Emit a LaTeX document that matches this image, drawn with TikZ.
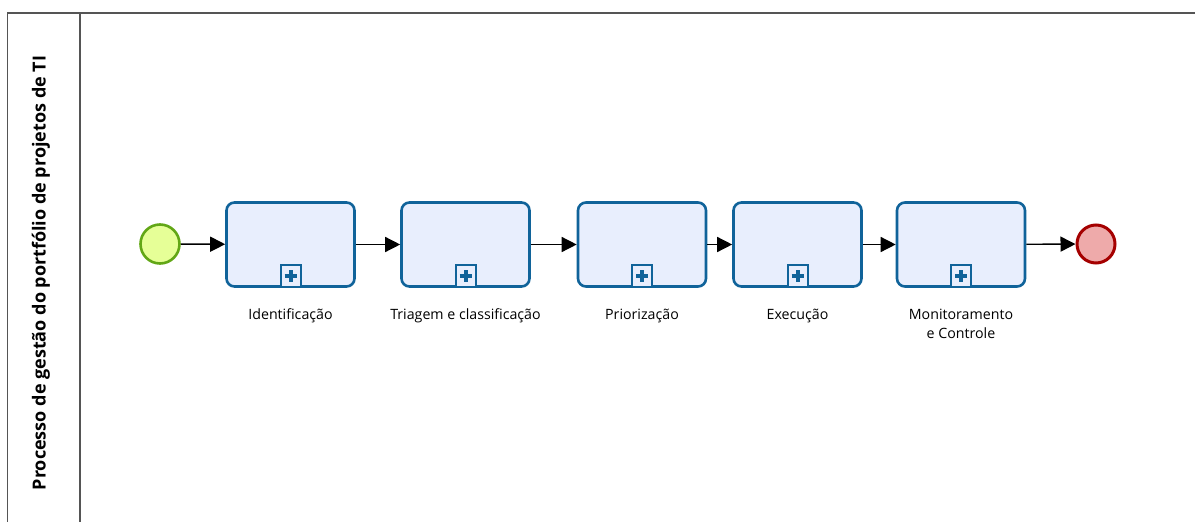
\documentclass[tikz,border=0pt]{standalone}
\usepackage{fontspec}
\setmainfont{Open Sans}
\usetikzlibrary{arrows.meta}
\definecolor{taskline}{HTML}{10639A}
\definecolor{taskfill}{HTML}{E8EEFD}
\definecolor{startline}{HTML}{62A716}
\definecolor{startfill}{HTML}{E6FF97}
\definecolor{endline}{HTML}{A50000}
\definecolor{endfill}{HTML}{EEAAAA}
\definecolor{poolline}{HTML}{555555}
\begin{document}
\begin{tikzpicture}[x=1pt, y=-1pt,
	task/.style={draw=taskline, fill=taskfill, line width=2.6pt, rounded corners=8pt,
		minimum width=128pt, minimum height=84pt},
	marker/.style={draw=taskline, fill=taskfill, line width=2pt, minimum width=20pt,
		minimum height=22pt, inner sep=0pt},
	plusline/.style={draw=taskline, line width=4pt},
	startev/.style={circle, draw=startline, fill=startfill, line width=2.6pt, minimum size=39pt, inner sep=0pt},
	endev/.style={circle, draw=endline, fill=endfill, line width=3pt, minimum size=38pt, inner sep=0pt},
	flow/.style={-{Triangle[length=15pt,width=15pt]}, line width=1.4pt},
	lbl/.style={font=\fontsize{14.2}{19}\selectfont, align=center}]
	\useasboundingbox (0,0) rectangle (1195,522);

	\draw[poolline, line width=1.5pt] (1195,13) -- (7.5,13) -- (7.5,522);
	\draw[poolline, line width=1.5pt] (80,13) -- (80,522);
	\node[rotate=90, font=\fontsize{18}{22}\selectfont\bfseries] (lane) at (41,273)
		{Processo de gestão do portfólio de projetos de TI};

	\node[startev] (s) at (160,244) {};
	\node[task] (t1) at (290.5,244.5) {};
	\node[task] (t2) at (465.5,244.5) {};
	\node[task] (t3) at (642,244.5) {};
	\node[task] (t4) at (797.5,244.5) {};
	\node[task] (t5) at (961,244.5) {};
	\node[endev] (e) at (1096,244) {};

	\node[lbl] (l1) at (290.5,316) {Identificação};
	\node[lbl] (l2) at (465.5,316) {Triagem e classificação};
	\node[lbl] (l3) at (642,316) {Priorização};
	\node[lbl] (l4) at (797.5,316) {Execução};
	\node[lbl, anchor=north] (l5) at (961,306) {Monitoramento\\e Controle};

	\foreach \i in {1,...,5}
	{
		\node[marker, anchor=south] (m\i) at (t\i.south) {};
		\draw[plusline] ([yshift=-6pt]m\i.center) -- ([yshift=6pt]m\i.center);
		\draw[plusline] ([xshift=-6pt]m\i.center) -- ([xshift=6pt]m\i.center);
	};
	\foreach \a / \b in {s/t1, t1/t2, t2/t3, t3/t4, t4/t5, t5/e}
	{
		\path (\a) edge[flow] (\b);
	};
\end{tikzpicture}
\end{document}
